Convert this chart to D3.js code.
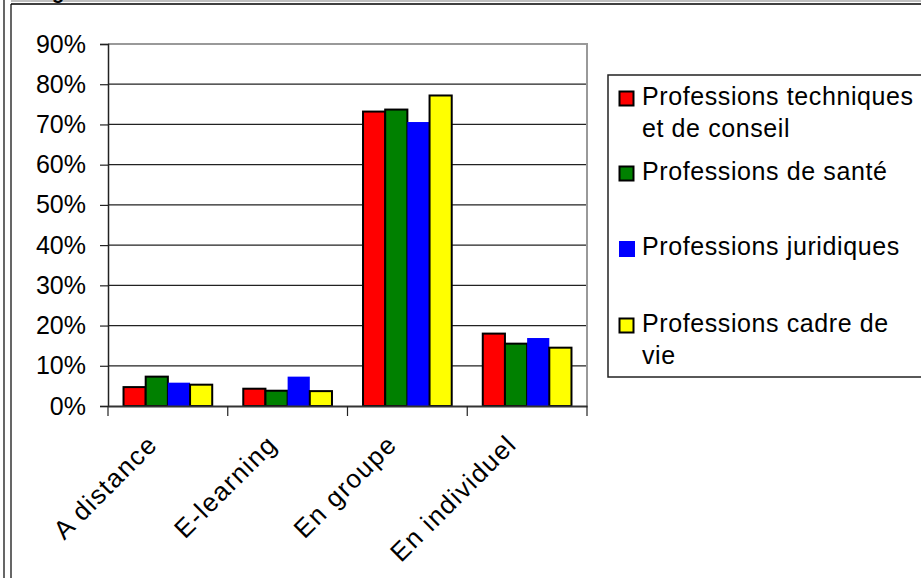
<!DOCTYPE html>
<html>
<head>
<meta charset="utf-8">
<script src="https://cdn.jsdelivr.net/npm/d3@7"></script>
<style>
  body { margin: 0; background: #fff; }
  svg { display: block; font-family: Arial, "Liberation Sans", sans-serif; }
</style>
</head>
<body>
<div class="bar-chart"></div>
<script>
const categories = ['A distance', 'E-learning', 'En groupe', 'En individuel'];
const seriesNames = [
  ['Professions techniques', 'et de conseil'],
  ['Professions de santé'],
  ['Professions juridiques'],
  ['Professions cadre de', 'vie']
];
const techniques = [4.7, 4.3, 73.2, 18.0];
const sante = [7.3, 3.8, 73.7, 15.5];
const juridiques = [5.8, 7.3, 70.6, 16.9];
const cadreDeVie = [5.3, 3.7, 77.2, 14.5];
const yTicks = [0, 10, 20, 30, 40, 50, 60, 70, 80, 90];

const colors = ['#FF0000', '#008000', '#0000FF', '#FFFF00'];
const strokes = ['#000', '#000', 'none', '#000'];

const width = 921;
const height = 578;
const plot = { left: 108, right: 587, top: 44, bottom: 406 };

const svg = d3.select('.bar-chart')
  .append('svg')
  .attr('width', width)
  .attr('height', height);

// outer frame (left double line + top line)
svg.append('line').attr('x1', 4).attr('x2', 4).attr('y1', 0).attr('y2', height)
  .attr('stroke', '#000').attr('stroke-width', 1.2);
svg.append('line').attr('x1', 11).attr('x2', 11).attr('y1', 4).attr('y2', height)
  .attr('stroke', '#000').attr('stroke-width', 1.2);
svg.append('line').attr('x1', 11).attr('x2', width).attr('y1', 4).attr('y2', 4)
  .attr('stroke', '#000').attr('stroke-width', 1.5);
svg.append('line').attr('x1', 11).attr('x2', width).attr('y1', 1).attr('y2', 1)
  .attr('stroke', '#aaa').attr('stroke-width', 1.5);

// title above the frame, only its descender is visible
svg.append('text')
  .attr('x', 52).attr('y', -1)
  .attr('font-size', 20).attr('font-weight', 'bold')
  .text('g');

const x = d3.scaleBand()
  .domain(categories)
  .range([plot.left, plot.right]);

const y = d3.scaleLinear()
  .domain([0, 90])
  .range([plot.bottom, plot.top]);

const inner = d3.scaleBand()
  .domain(d3.range(4))
  .range([0, x.bandwidth()])
  .paddingOuter(0.7);

// gridlines
svg.append('g')
  .selectAll('line')
  .data(yTicks.filter(d => d > 0 && d < 90))
  .enter()
  .append('line')
  .attr('x1', plot.left).attr('x2', plot.right)
  .attr('y1', d => y(d)).attr('y2', d => y(d))
  .attr('stroke', '#222').attr('stroke-width', 1.2);

// plot area top/right border
svg.append('path')
  .attr('d', `M${plot.left},${plot.top}H${plot.right}V${plot.bottom}`)
  .attr('fill', 'none').attr('stroke', '#999').attr('stroke-width', 2);

// bars
const series = [techniques, sante, juridiques, cadreDeVie];
series.forEach((values, s) => {
  svg.append('g')
    .selectAll('rect')
    .data(values)
    .enter()
    .append('rect')
    .attr('x', (d, i) => x(categories[i]) + inner(s))
    .attr('y', d => y(d))
    .attr('width', inner.bandwidth())
    .attr('height', d => y(0) - y(d))
    .attr('fill', colors[s])
    .attr('stroke', strokes[s])
    .attr('stroke-width', 2);
});

// y axis
const yAxis = svg.append('g')
  .attr('transform', `translate(${plot.left},0)`)
  .call(d3.axisLeft(y).tickValues(yTicks).tickFormat(d => d + '%').tickSize(8).tickPadding(14));
yAxis.select('.domain').attr('stroke', '#222').attr('stroke-width', 1.5);
yAxis.selectAll('.tick line').attr('stroke', '#222').attr('stroke-width', 1.2);
yAxis.selectAll('text').attr('font-size', 25).attr('fill', '#000')
  .attr('font-family', 'Arial, "Liberation Sans", sans-serif');

// x axis
const xAxis = svg.append('g')
  .attr('transform', `translate(0,${plot.bottom})`)
  .call(d3.axisBottom(x).tickSize(0).tickFormat(''));
xAxis.select('.domain').attr('stroke', '#333').attr('stroke-width', 1.8);

svg.append('g')
  .selectAll('line')
  .data(categories.concat(['end']))
  .enter()
  .append('line')
  .attr('x1', (d, i) => i < categories.length ? x(d) : plot.right)
  .attr('x2', (d, i) => i < categories.length ? x(d) : plot.right)
  .attr('y1', plot.bottom).attr('y2', plot.bottom + 10)
  .attr('stroke', '#222').attr('stroke-width', 1.2);

svg.append('g')
  .selectAll('text')
  .data(categories)
  .enter()
  .append('text')
  .attr('transform', d => `translate(${x(d) + x.bandwidth() / 2 - 9},${plot.bottom + 40}) rotate(-45)`)
  .attr('text-anchor', 'end')
  .attr('font-size', 26)
  .attr('letter-spacing', 1.4)
  .text(d => d);

// legend
const legend = svg.append('g').attr('class', 'legend');
legend.append('rect')
  .attr('x', 608).attr('y', 75)
  .attr('width', 340).attr('height', 302)
  .attr('fill', '#fff').attr('stroke', '#222').attr('stroke-width', 1.5);

const legendY = [105, 180, 255, 332];
seriesNames.forEach((lines, s) => {
  const g = legend.append('g');
  g.append('rect')
    .attr('x', s === 2 ? 619 : 619.5)
    .attr('y', legendY[s] - (s === 2 ? 14 : 13.5))
    .attr('width', s === 2 ? 16 : 14)
    .attr('height', s === 2 ? 16 : 14)
    .attr('fill', colors[s])
    .attr('stroke', strokes[s])
    .attr('stroke-width', 2);
  g.selectAll('text')
    .data(lines)
    .enter()
    .append('text')
    .attr('x', 642)
    .attr('y', (d, i) => legendY[s] + i * 32)
    .attr('font-size', 25)
    .attr('letter-spacing', 0.6)
    .text(d => d);
});
</script>
</body>
</html>
